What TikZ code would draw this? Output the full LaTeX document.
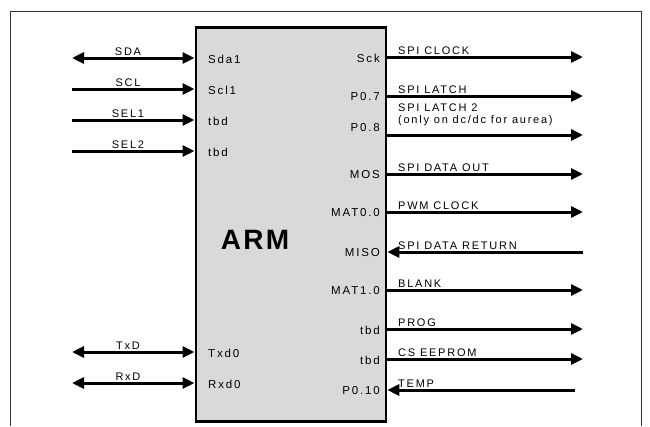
\documentclass[tikz,border=0pt]{standalone}
\usepackage{fontspec}
\setmainfont{Liberation Sans}
\newfontfamily\spacedfont[LetterSpace=16]{Liberation Sans}
\newfontfamily\armfont[LetterSpace=8]{Liberation Sans}
\usetikzlibrary{arrows.meta}

\tikzset{
    sigout/.style={line width=3pt, -{Triangle[length=12pt, width=11pt]}},
    sigin/.style={line width=3pt, {Triangle[length=12pt, width=11pt]}-},
    sigboth/.style={line width=3pt, {Triangle[length=12pt, width=11pt]}-{Triangle[length=12pt, width=11pt]}},
    siglabel/.style={font=\spacedfont\fontsize{11}{12}\selectfont, inner sep=0pt},
    pinlabel/.style={font=\spacedfont\fontsize{11.5}{12}\selectfont, inner sep=0pt},
}

\begin{document}
\begin{tikzpicture}[x=1pt, y=-1pt]
    \useasboundingbox (0,0) rectangle (650,426);

    % Frame (open at the bottom)
    \draw[line width=0.8pt, black!80] (10,426) -- (10,11) -- (641,11) -- (641,426);

    % ARM block
    \node[draw, line width=2.8pt, fill=gray!30, inner sep=0pt, anchor=north west,
          minimum width=190pt, minimum height=394pt] (arm) at (194.5,26) {};
    \node[font=\armfont\bfseries\fontsize{28}{30}\selectfont, inner sep=0pt] (armname) at (255,240) {ARM};

    % Left side signals
    \foreach \y/\sig/\pin/\tip [count=\i] in {58/SDA/Sda1/sigboth, 89/SCL/Scl1/sigout,
            120/SEL1/tbd/sigout, 151/SEL2/tbd/sigout, 352/TxD/Txd0/sigboth, 383/RxD/Rxd0/sigboth}
    {
        \coordinate (L\i) at (72,\y);
        \draw[\tip] (L\i) -- (arm.west |- L\i);
        \node[siglabel, anchor=base] (Lsig\i) at (128,\y-3) {\sig};
        \node[pinlabel, anchor=west] (Lpin\i) at (208,\y+1) {\pin};
    }

    % Right side signals
    \foreach \y/\x/\pin/\sig/\tip [count=\i] in {57/583/Sck/SPI CLOCK/sigout, 96/583/P0.7/SPI LATCH/sigout,
            174/583/MOS/SPI DATA OUT/sigout, 212/583/MAT0.0/PWM CLOCK/sigout,
            252/583/MISO/SPI DATA RETURN/sigin, 290/583/MAT1.0/BLANK/sigout,
            329/583/tbd/PROG/sigout, 359/583/tbd/CS EEPROM/sigout, 390/575/P0.10/TEMP/sigin}
    {
        \coordinate (R\i) at (\x,\y);
        \draw[\tip] (arm.east |- R\i) -- (R\i);
        \node[siglabel, anchor=base west] (Rsig\i) at (398,\y-3) {\sig};
        \node[pinlabel, anchor=east] (Rpin\i) at (380,\y+1) {\pin};
    }

    % P0.8 has a two line label
    \coordinate (latchtwo) at (583,135);
    \draw[sigout] (arm.east |- latchtwo) -- (latchtwo);
    \node[siglabel, anchor=north west, align=left] (latchtwosig) at (398,104) {SPI LATCH 2\\(only on dc/dc for aurea)};
    \node[pinlabel, anchor=east] (latchtwopin) at (380,128) {P0.8};

\end{tikzpicture}
\end{document}
